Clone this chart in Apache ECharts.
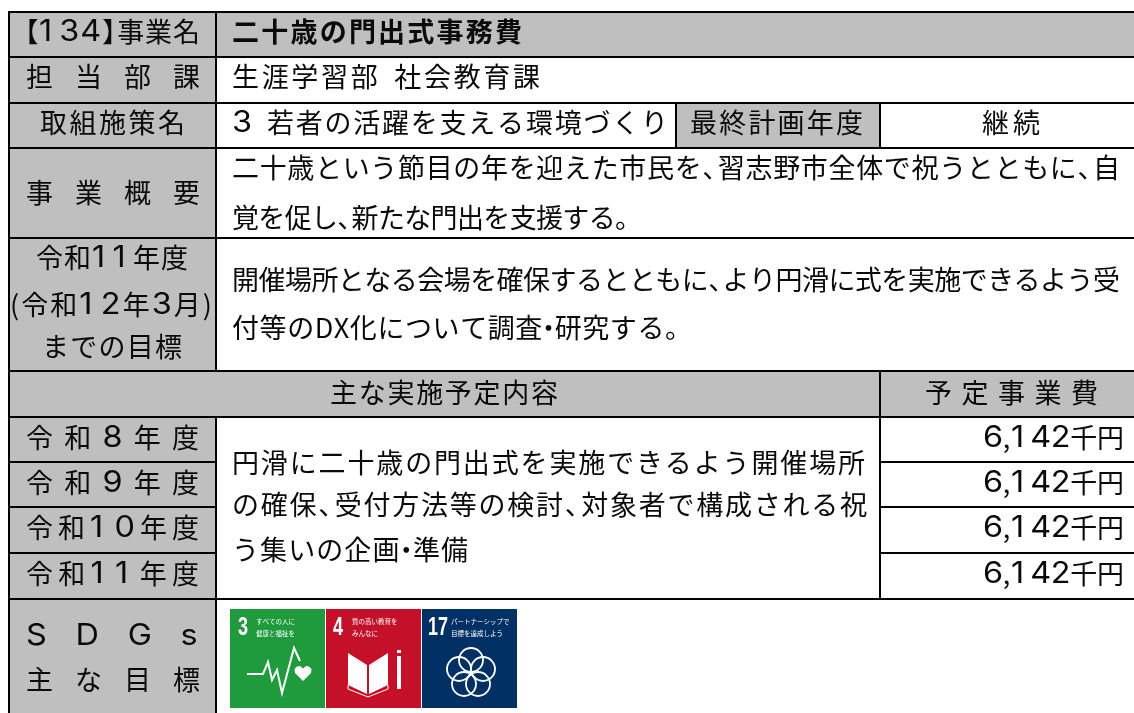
<!DOCTYPE html>
<html lang="ja"><head><meta charset="utf-8">
<style>html,body{margin:0;padding:0;background:#fff}#c{width:1134px;height:713px}</style>
<script src="https://cdn.jsdelivr.net/npm/echarts@6/dist/echarts.min.js"></script>
</head><body><div id="c"></div>
<script>
// ---- content ----
const projectId = '【134】事業名';
const projectName = '二十歳の門出式事務費';
const deptLabel = '担当部課';
const deptName = '生涯学習部 社会教育課';
const policyLabel = '取組施策名';
const policyName = '3 若者の活躍を支える環境づくり';
const finalYearLabel = '最終計画年度';
const finalYear = '継続';
const summaryLabel = '事業概要';
const summaryLines = ['二十歳という節目の年を迎えた市民を、習志野市全体で祝うとともに、自', '覚を促し、新たな門出を支援する。'];
const goalLabels = ['令和11年度', '(令和12年3月)', 'までの目標'];
const goalLines = ['開催場所となる会場を確保するとともに、より円滑に式を実施できるよう受', '付等のDX化について調査・研究する。'];
const planHeader = '主な実施予定内容';
const costHeader = '予定事業費';
const years = ['令和8年度', '令和9年度', '令和10年度', '令和11年度'];
const costs = [6142, 6142, 6142, 6142];
const costUnit = '千円';
const planLines = ['円滑に二十歳の門出式を実施できるよう開催場所', 'の確保、受付方法等の検討、対象者で構成される祝', 'う集いの企画・準備'];
const sdgLabels = ['SDGs', '主な目標'];
const sdgNumbers = ['3', '4', '17'];
const sdgCaptions = [['すべての人に', '健康と福祉を'], ['質の高い教育を', 'みんなに'], ['パートナーシップで', '目標を達成しよう']];

// ---- layout ----
const GREY = '#bfbfbf', INK = '#0a0a0a', FONT = '"Noto Sans CJK JP"', DIGIT = 'Inter';
const Y = [12, 57, 103, 148, 238, 371, 417, 462, 507, 553, 599, 730];
const L = 9, A = 216, B = 676, C = 880, R = 1145;
const cells = [
  [L, Y[0], A, Y[1], GREY], [A, Y[0], R, Y[1], GREY],
  [L, Y[1], A, Y[2], GREY], [A, Y[1], R, Y[2], '#fff'],
  [L, Y[2], A, Y[3], GREY], [A, Y[2], B, Y[3], '#fff'], [B, Y[2], C, Y[3], GREY], [C, Y[2], R, Y[3], '#fff'],
  [L, Y[3], A, Y[4], GREY], [A, Y[3], R, Y[4], '#fff'],
  [L, Y[4], A, Y[5], GREY], [A, Y[4], R, Y[5], '#fff'],
  [L, Y[5], C, Y[6], GREY], [C, Y[5], R, Y[6], GREY],
  [L, Y[6], A, Y[7], GREY], [L, Y[7], A, Y[8], GREY], [L, Y[8], A, Y[9], GREY], [L, Y[9], A, Y[10], GREY],
  [A, Y[6], C, Y[10], '#fff'],
  [C, Y[6], R, Y[7], '#fff'], [C, Y[7], R, Y[8], '#fff'], [C, Y[8], R, Y[9], '#fff'], [C, Y[9], R, Y[10], '#fff'],
  [L, Y[10], A, Y[11], GREY], [A, Y[10], R, Y[11], '#fff']
];
const costText = costs.map(v => v.toLocaleString('en-US') + costUnit);
// [text, xStart, xEnd, yCentre, bold]
const lines = [
  [projectId, 24, 200, 32], [projectName, 232, 522, 32, 1],
  [deptLabel, 26, 200, 77], [deptName, 232, 540, 77],
  [policyLabel, 40, 185, 123], [policyName, 232, 668, 123], [finalYearLabel, 690, 863, 123], [finalYear, 982, 1040, 123],
  [summaryLabel, 26, 200, 193],
  [summaryLines[0], 232, 1120, 168], [summaryLines[1], 232, 642, 218],
  [goalLabels[0], 36, 188, 258], [goalLabels[1], 10, 212, 305], [goalLabels[2], 42, 182, 347],
  [goalLines[0], 232, 1120, 280], [goalLines[1], 232, 692, 328],
  [planHeader, 330, 558, 393], [costHeader, 925, 1098, 393],
  [years[0], 26, 199, 438], [years[1], 26, 199, 483], [years[2], 26, 199, 528], [years[3], 26, 199, 574],
  [costText[0], 983, 1124, 438], [costText[1], 983, 1124, 483], [costText[2], 983, 1124, 528], [costText[3], 983, 1124, 574],
  [planLines[0], 232, 865, 463], [planLines[1], 232, 867, 505], [planLines[2], 232, 468, 550],
  [sdgLabels[0], 26, 200, 636], [sdgLabels[1], 26, 200, 680]
];
const SIZE = 27;
const tweaks = {'、': [0.55, 0], '・': [0.42, -0.29], ' ': [0.42, 0], '【': [0.52, -0.46], '】': [0.52, 0], ',': [0.32, 0]};
const ctx = document.createElement('canvas').getContext('2d');
const isWide = (c, line) => (c >= '0' && c <= '9') || line === sdgLabels[0];
function advance(ch, bold, line) {
  if (tweaks[ch]) return SIZE * tweaks[ch][0];
  const wide = isWide(ch, line);
  ctx.font = (bold ? 'bold ' : '') + SIZE + 'px ' + (wide ? DIGIT : FONT);
  const w = ctx.measureText(ch).width;
  return wide ? Math.max(w, 0.6 * SIZE) * 1.2 : w;
}
const chart = echarts.init(document.getElementById('c'), null, {renderer: 'canvas'});
const iconX = [230, 326, 422], iconW = 95, iconTop = 609, iconH = 99;
const iconColors = ['#1f9a3d', '#c5102a', '#003064'];
const numberX = [8, 7, 6];
const captionX = [26, 26, 29];
const pulse = [[17,65],[33,65],[38,53],[42,71],[47,61],[52,84],[64,39],[70,52]];
const heartShape = [[64.5,60],[67,57.5],[70,57],[73,59.5],[76,57],[79,57.5],[81.5,60],[81,64],[73,72],[65,64]];
const pageLeft = [[22,44],[41,56],[41,85],[22,76]];
const pageRight = [[43,56],[62,44],[62,76],[43,85]];
const bookFoot = [[22,76],[22,80],[42,88],[62,80],[62,76]];
const petals = [[49,51],[61,60],[56,75],[42,75],[37,60]];
chart.setOption({
  animation: false,
  grid: {left: 0, right: 0, top: 0, bottom: 0},
  xAxis: {type: 'value', min: 0, max: 1134, show: false},
  yAxis: {type: 'value', min: 0, max: 713, inverse: true, show: false},
  series: [
    {
      type: 'custom', coordinateSystem: 'cartesian2d', silent: true, clip: true,
      data: cells.map((c, i) => [c[0], c[1], c[2], c[3], i]),
      encode: {x: [0, 2], y: [1, 3]},
      renderItem(p, api) {
        const a = api.coord([api.value(0), api.value(1)]), b = api.coord([api.value(2), api.value(3)]);
        return {type: 'rect', shape: {x: a[0], y: a[1], width: b[0] - a[0], height: b[1] - a[1]},
          style: {fill: cells[api.value(4)][4], stroke: '#000', lineWidth: 2}};
      }
    },
    {
      type: 'custom', coordinateSystem: 'cartesian2d', silent: true, clip: false, z: 3,
      data: lines.map((l, i) => [l[1], l[3], i]),
      encode: {x: 0, y: 1},
      renderItem(p, api) {
        const l = lines[api.value(2)], chars = Array.from(l[0]), bold = !!l[4];
        const w = chars.map(c => advance(c, bold, l[0])), total = w.reduce((s, v) => s + v, 0);
        const gap = chars.length > 1 ? (l[2] - l[1] - total) / (chars.length - 1) : 0;
        const base = api.coord([l[1], l[3]]);
        let x = base[0];
        const children = chars.map((c, i) => {
          const d = isWide(c, l[0]), off = tweaks[c] ? tweaks[c][1] * SIZE : 0;
          const el = {type: 'text', x: x + off, y: base[1], scaleX: d ? 1.2 : 1, scaleY: d ? 1.08 : 1,
            style: {text: c, fill: INK, font: (bold ? 'bold ' : '') + SIZE + 'px ' + (d ? DIGIT : FONT), textAlign: 'left', textVerticalAlign: 'middle'}};
          x += w[i] + gap;
          return el;
        });
        return {type: 'group', children};
      }
    },
    {
      type: 'custom', coordinateSystem: 'cartesian2d', silent: true, clip: false, z: 4,
      data: sdgNumbers.map((n, i) => [iconX[i], iconTop, i]),
      encode: {x: 0, y: 1},
      renderItem(p, api) {
        const i = api.value(2), o = api.coord([iconX[i], iconTop]);
        const ox = o[0], oy = o[1];
        const pts = a => a.map(q => [ox + q[0], oy + q[1]]);
        const white = {fill: '#fff'}, thin = {fill: 'none', stroke: '#fff', lineWidth: 1.8};
        const kids = [
          {type: 'rect', shape: {x: ox, y: oy, width: iconW, height: iconH}, style: {fill: iconColors[i]}},
          {type: 'text', x: ox + numberX[i], y: oy + 19, scaleX: 0.72, style: {text: sdgNumbers[i], fill: '#fff', font: 'bold 25px "Liberation Sans"', textVerticalAlign: 'middle'}},
          {type: 'text', x: ox + captionX[i], y: oy + 13, style: {text: sdgCaptions[i][0], fill: '#fff', font: '6.5px ' + FONT, textVerticalAlign: 'middle'}},
          {type: 'text', x: ox + captionX[i], y: oy + 25, style: {text: sdgCaptions[i][1], fill: '#fff', font: '6.5px ' + FONT, textVerticalAlign: 'middle'}}
        ];
        if (i === 0) {
          kids.push({type: 'polyline', shape: {points: pts(pulse)}, style: {fill: 'none', stroke: '#fff', lineWidth: 2}});
          kids.push({type: 'polygon', shape: {points: pts(heartShape)}, style: white});
        }
        if (i === 1) {
          kids.push({type: 'polygon', shape: {points: pts(pageLeft)}, style: white});
          kids.push({type: 'polygon', shape: {points: pts(pageRight)}, style: white});
          kids.push({type: 'polyline', shape: {points: pts(bookFoot)}, style: {fill: 'none', stroke: '#fff', lineWidth: 1}});
          kids.push({type: 'rect', shape: {x: ox + 71, y: oy + 47, width: 4, height: 33}, style: white});
          kids.push({type: 'rect', shape: {x: ox + 71, y: oy + 41, width: 4, height: 3}, style: white});
        }
        if (i === 2) {
          petals.forEach(c => kids.push({type: 'circle', shape: {cx: ox + c[0], cy: oy + c[1], r: 12}, style: thin}));
        }
        return {type: 'group', children: kids};
      }
    }
  ]
});
</script></body></html>
